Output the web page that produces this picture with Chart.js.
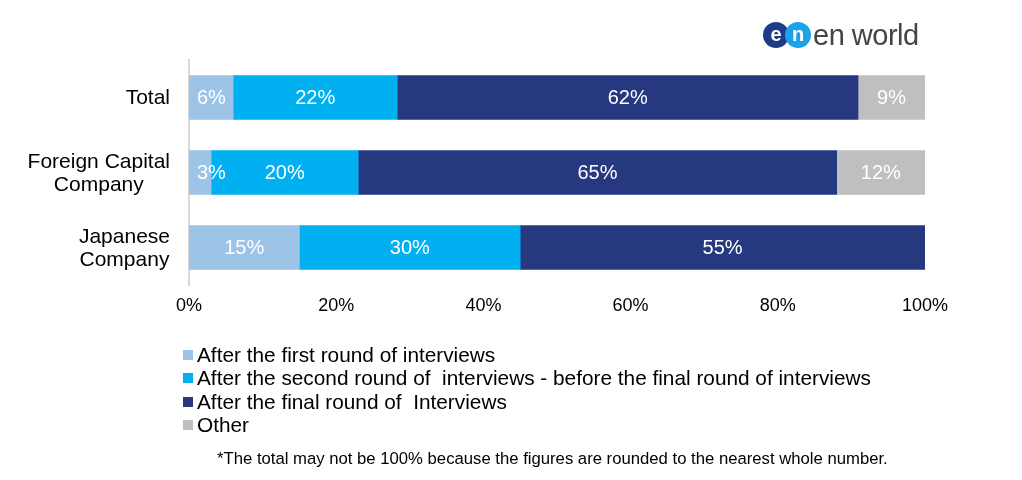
<!DOCTYPE html>
<html>
<head>
<meta charset="utf-8">
<script src="https://cdn.jsdelivr.net/npm/chart.js@4/dist/chart.umd.min.js"></script>
<style>
  body { margin: 0; background: #fff; font-family: "Liberation Sans", Arial, sans-serif; }
  #wrap { position: relative; width: 1022px; height: 480px; overflow: hidden; }
  #chart { position: absolute; left: 0; top: 0; }
  .logo { position: absolute; left: 763px; top: 21px; height: 28px; display: flex; align-items: center; }
  .logo .dot { width: 26px; height: 26px; border-radius: 50%; color: #fff; font-weight: bold; font-size: 20px; line-height: 24px; text-align: center; font-family: "Liberation Sans", Arial, sans-serif; }
  .logo .d1 { background: #1f3c88; }
  .logo .d2 { background: #1aa3e8; margin-left: -4px; }
  .logo .word { margin-left: 2px; font-size: 29px; color: #444; font-family: "Liberation Sans", Arial, sans-serif; letter-spacing: -0.5px; }
  #legend { position: absolute; left: 183px; top: 343px; font-size: 20.8px; color: #000; }
  #legend .row { height: 23.5px; display: flex; align-items: center; white-space: pre; }
  #legend .sw { width: 10px; height: 10px; margin-right: 4px; }
  .note { position: absolute; left: 217px; top: 449px; font-size: 16.7px; color: #000; }
</style>
</head>
<body>
<div id="wrap">
  <canvas id="chart" width="1022" height="480"></canvas>
  <div class="logo"><div class="dot d1">e</div><div class="dot d2">n</div><span class="word">en world</span></div>
  <div id="legend"></div>
  <div class="note">*The total may not be 100% because the figures are rounded to the nearest whole number.</div>
</div>
<script>
// 類別與數據
const categories = [['Total'], ['Foreign Capital', 'Company'], ['Japanese', 'Company']];
const seriesNames = [
    'After the first round of interviews',
    'After the second round of  interviews - before the final round of interviews',
    'After the final round of  Interviews',
    'Other'
];
const seriesColors = ['#9dc3e6', '#00b0f0', '#253880', '#bfbfbf'];
const firstRound  = [6.0, 3.0, 15.0];
const secondRound = [22.3, 20.0, 30.0];
const finalRound  = [62.6, 65.0, 55.0];
const other       = [9.1, 12.0, 0];
// 圖上顯示的百分比 (四捨五入後)
const firstLabels  = [6, 3, 15];
const secondLabels = [22, 20, 30];
const finalLabels  = [62, 65, 55];
const otherLabels  = [9, 12, null];
const xTicks = [0, 20, 40, 60, 80, 100];

const values = [firstRound, secondRound, finalRound, other];
const shown = [firstLabels, secondLabels, finalLabels, otherLabels];
const FONT = '"Liberation Sans", Arial, sans-serif';

// 白色數值標籤 (太窄的區段標籤不超出左邊界)
const segmentLabels = {
    id: 'segmentLabels',
    afterDatasetsDraw(chart) {
        const ctx = chart.ctx;
        const left = chart.chartArea.left;
        ctx.save();
        ctx.fillStyle = '#fff';
        ctx.font = '20px ' + FONT;
        ctx.textAlign = 'center';
        ctx.textBaseline = 'middle';
        chart.data.datasets.forEach((ds, i) => {
            chart.getDatasetMeta(i).data.forEach((bar, j) => {
                const txt = shown[i][j];
                if (txt === null || !ds.data[j]) return;
                const s = txt + '%';
                const w = ctx.measureText(s).width;
                const cx = Math.max((bar.x + bar.base) / 2, left + 8 + w / 2);
                ctx.fillText(s, cx, bar.y + 1);
            });
        });
        ctx.restore();
    }
};

// Y 軸類別標籤：整塊靠右，行內置中
const categoryLabels = {
    id: 'categoryLabels',
    afterDraw(chart) {
        const ctx = chart.ctx;
        const y = chart.scales.y;
        const right = chart.chartArea.left - 19;
        ctx.save();
        ctx.fillStyle = '#000';
        ctx.font = '21px ' + FONT;
        ctx.textAlign = 'center';
        ctx.textBaseline = 'middle';
        categories.forEach((lines, i) => {
            const w = Math.max(...lines.map(l => ctx.measureText(l).width));
            const cy = y.getPixelForValue(i);
            const lh = 23;
            lines.forEach((l, k) => {
                ctx.fillText(l, right - w / 2, cy + 1 + (k - (lines.length - 1) / 2) * lh);
            });
        });
        ctx.restore();
    }
};

new Chart(document.getElementById('chart'), {
    type: 'bar',
    data: {
        labels: categories.map(c => c.join(' ')),
        datasets: values.map((v, i) => ({
            label: seriesNames[i],
            data: v,
            backgroundColor: seriesColors[i],
            borderWidth: 0,
            barThickness: 44
        }))
    },
    options: {
        indexAxis: 'y',
        responsive: false,
        animation: false,
        layout: { padding: { top: 60, right: 97, left: 0, bottom: 0 } },
        plugins: { legend: { display: false }, tooltip: { enabled: false } },
        scales: {
            x: {
                stacked: true,
                min: 0, max: 100,
                afterBuildTicks: s => { s.ticks = xTicks.map(v => ({ value: v })); },
                grid: { display: false, drawTicks: false },
                border: { display: false },
                ticks: {
                    padding: 10,
                    color: '#000',
                    font: { size: 18, family: FONT },
                    callback: v => v + '%'
                },
                afterFit: s => { s.height = 195; }
            },
            y: {
                stacked: true,
                grid: { display: false, drawTicks: false },
                border: { display: true, color: '#d9d9d9', width: 2 },
                ticks: { display: false },
                afterFit: s => { s.width = 189; }
            }
        }
    },
    plugins: [segmentLabels, categoryLabels]
});

// 圖例
const legendEl = document.getElementById('legend');
seriesNames.forEach((name, i) => {
    const row = document.createElement('div');
    row.className = 'row';
    row.innerHTML = `<span class="sw" style="background:${seriesColors[i]}"></span>${name}`;
    legendEl.appendChild(row);
});
</script>
</body>
</html>
